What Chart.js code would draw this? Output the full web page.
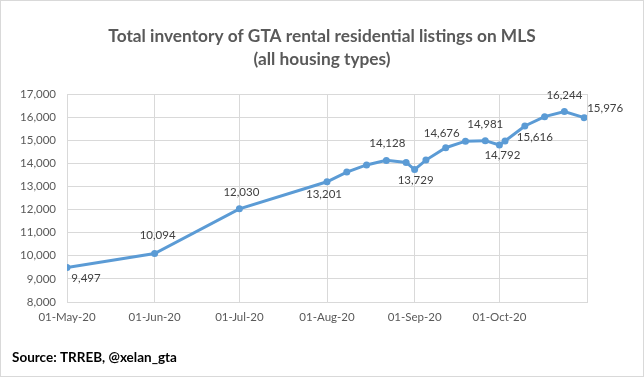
<!DOCTYPE html>
<html>
<head>
<meta charset="utf-8">
<script src="https://cdn.jsdelivr.net/npm/chart.js@4"></script>
<style>
  html, body { margin: 0; padding: 0; background: #fff; }
  #wrap { width: 644px; height: 377px; position: relative; }
</style>
</head>
<body>
<div id="wrap"><canvas id="rentals" width="644" height="377"></canvas></div>
<script>
// weekly-ish snapshots of total rental inventory
const dates = ['2020-05-01', '2020-06-01', '2020-07-01', '2020-08-01', '2020-08-08', '2020-08-15',
  '2020-08-22', '2020-08-29', '2020-09-01', '2020-09-05', '2020-09-12', '2020-09-19',
  '2020-09-26', '2020-10-01', '2020-10-03', '2020-10-10', '2020-10-17', '2020-10-24', '2020-10-31'];
const listings = [9497, 10094, 12030, 13201, 13620, 13930, 14128, 14040, 13729, 14140, 14676, 14960,
  14981, 14792, 14970, 15616, 16020, 16244, 15976];
const labelled = [0, 1, 2, 3, 6, 8, 10, 12, 13, 15, 17, 18];
const tickDates = ['2020-05-01', '2020-06-01', '2020-07-01', '2020-08-01', '2020-09-01', '2020-10-01', '2020-11-01'];
const yTicks = [8000, 9000, 10000, 11000, 12000, 13000, 14000, 15000, 16000, 17000];
const titleLines = ['Total inventory of GTA rental residential listings on MLS', '(all housing types)'];
const sourceText = 'Source: TRREB, @xelan_gta';

const MONTHS = ['Jan','Feb','Mar','Apr','May','Jun','Jul','Aug','Sep','Oct','Nov','Dec'];
const start = Date.UTC(2020, 4, 1);
function dayOf(s) {
  let p = s.split('-');
  return Math.round((Date.UTC(+p[0], +p[1] - 1, +p[2]) - start) / 86400000);
}
function fmtDay(d) {
  let dt = new Date(start + d * 86400000);
  let dd = String(dt.getUTCDate()).padStart(2, '0');
  return dd + '-' + MONTHS[dt.getUTCMonth()] + '-' + String(dt.getUTCFullYear()).slice(2);
}
const tickDays = tickDates.map(dayOf);
const lastTick = tickDays[tickDays.length - 1];

const FONT = "Lato, 'Open Sans', sans-serif";

// where each value label sits relative to its point
const labelOffsets = {0: [19, 11], 1: [3, -18], 2: [2, -17], 3: [-3, 12], 6: [1, -17], 8: [1, 11],
  10: [-4, -14], 12: [0, -16], 13: [3, 10], 15: [10, 11], 17: [0, -16], 18: [21, -9]};

const extras = {
  id: 'extras',
  afterDraw(chart) {
    const c = chart.ctx;
    c.save();
    // value labels
    const meta = chart.getDatasetMeta(0);
    c.font = '11.5px ' + FONT;
    c.fillStyle = '#404040';
    c.textAlign = 'center';
    c.textBaseline = 'middle';
    labelled.forEach(i => {
      const pt = meta.data[i];
      const off = labelOffsets[i] || [0, -15];
      c.fillText(listings[i].toLocaleString('en-US'), pt.x + off[0], pt.y + off[1]);
    });
    // title
    c.font = 'bold 17.3px ' + FONT;
    c.fillStyle = '#595959';
    c.fillText(titleLines[0], 322, 36);
    c.fillText(titleLines[1], 322, 59);
    // source
    c.font = 'bold 13.5px ' + FONT;
    c.fillStyle = '#000';
    c.textAlign = 'left';
    c.fillText(sourceText, 12, 358);
    // outer border
    c.strokeStyle = '#D9D9D9';
    c.lineWidth = 1;
    c.strokeRect(0.5, 0.5, 643, 376);
    c.restore();
  }
};

const ctx = document.getElementById('rentals').getContext('2d');
const rentalChart = new Chart(ctx, {
  type: 'line',
  data: {
    datasets: [{
      label: 'Total inventory',
      data: dates.map((d, i) => ({x: dayOf(d), y: listings[i]})),
      borderColor: '#5B9BD5',
      backgroundColor: '#5B9BD5',
      borderWidth: 3,
      pointRadius: 3.5,
      pointBorderWidth: 0,
      tension: 0,
      fill: false
    }]
  },
  options: {
    responsive: false,
    animation: false,
    layout: { padding: { left: 8, right: 57, top: 94, bottom: 50 } },
    plugins: {
      legend: { display: false },
      tooltip: { enabled: false }
    },
    scales: {
      x: {
        type: 'linear',
        min: 0,
        max: lastTick,
        afterBuildTicks: s => { s.ticks = tickDays.map(v => ({value: v})); },
        afterFit: s => { s.height = 25; },
        grid: { color: '#D9D9D9', drawTicks: false },
        border: { color: '#D9D9D9' },
        ticks: {
          autoSkip: false,
          maxRotation: 0,
          padding: 8,
          color: '#595959',
          font: { family: FONT, size: 11.5 },
          callback: v => v === lastTick ? '' : fmtDay(v)
        }
      },
      y: {
        min: yTicks[0],
        max: yTicks[yTicks.length - 1],
        afterBuildTicks: s => { s.ticks = yTicks.map(v => ({value: v})); },
        afterFit: s => { s.width = 59; },
        grid: { color: '#D9D9D9', drawTicks: false },
        border: { color: '#D9D9D9' },
        ticks: {
          padding: 11,
          color: '#595959',
          font: { family: FONT, size: 11.5 },
          callback: v => v.toLocaleString('en-US')
        }
      }
    }
  },
  plugins: [extras]
});
</script>
</body>
</html>
